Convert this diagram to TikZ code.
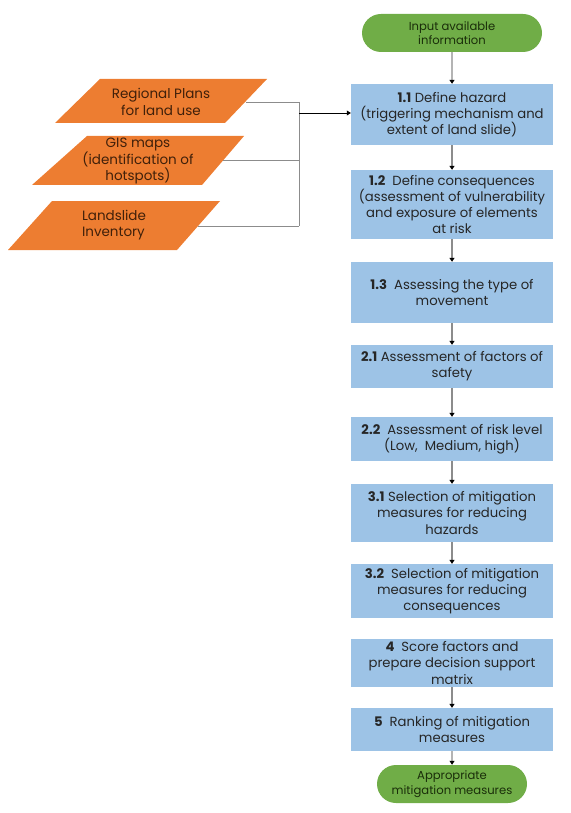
\documentclass[tikz,border=0pt]{standalone}
\usepackage{fontspec}
\setmainfont{Poppins}
\usetikzlibrary{arrows.meta,shapes.misc}
\definecolor{boxblue}{HTML}{9DC3E6}
\definecolor{ovgreen}{HTML}{70AD47}
\definecolor{porange}{HTML}{ED7D31}
\definecolor{ptext}{HTML}{40200A}
\definecolor{gtext}{HTML}{1A2E0A}
\definecolor{btext}{HTML}{262626}
\definecolor{lgray}{HTML}{8C8C8C}
\tikzset{
  stepbox/.style={fill=boxblue, draw=none, minimum width=202pt, align=center, text=btext,
    font=\fontsize{13.2}{16.2}\selectfont, inner sep=0pt},
  oval/.style={fill=ovgreen, draw=none, rounded rectangle, align=center, text=gtext,
    font=\fontsize{11.6}{14.5}\selectfont, inner sep=0pt},
  ptxt/.style={align=center, text=ptext, font=\fontsize{13.5}{16.2}\selectfont, inner sep=0pt},
  flow/.style={draw=lgray, line width=1.1pt, -{Triangle[length=4pt,width=5pt,fill=black,color=black]}},
  feed/.style={draw=lgray, line width=0.7pt},
}
\begin{document}
\begin{tikzpicture}[x=1pt,y=-1pt]
\useasboundingbox (0,0) rectangle (570,813);
% ovals
\node[oval, minimum width=180pt, minimum height=38pt] (start) at (452,33) {Input available\\information};
\node[oval, minimum width=150pt, minimum height=38pt] (end) at (452,784) {Appropriate\\mitigation measures};
% boxes
\node[stepbox, minimum height=61pt] (b11) at (452,114.5) {\textbf{1.1} Define hazard\\(triggering mechanism and\\extent of land slide)};
\node[stepbox, minimum height=69pt] (b12) at (452,204.5) {\textbf{1.2}\ \ Define consequences\\(assessment of vulnerability\\and exposure of elements\\at risk};
\node[stepbox, minimum height=61pt] (b13) at (452,292.5) {\textbf{1.3}\ \ Assessing the type of\\movement};
\node[stepbox, minimum height=43pt] (b21) at (452,366.5) {\textbf{2.1} Assessment of factors of\\safety};
\node[stepbox, minimum height=44pt] (b22) at (452,439) {\textbf{2.2}\ \ Assessment of risk level\\(Low,\ \ Medium, high)};
\node[stepbox, minimum height=58pt] (b31) at (452,513) {\textbf{3.1} Selection of mitigation\\measures for reducing\\hazards};
\node[stepbox, minimum height=54pt] (b32) at (452,591) {\textbf{3.2}\ \ Selection of mitigation\\measures for reducing\\consequences};
\node[stepbox, minimum height=48pt] (b4) at (452,663) {\textbf{4}\ \ Score factors and\\prepare decision support\\matrix};
\node[stepbox, minimum height=43pt] (b5) at (452,729.5) {\textbf{5}\ \ Ranking of mitigation\\measures};
% parallelograms
\fill[porange] (55,123) -- (225,123) -- (267,79) -- (100,79) -- cycle;
\fill[porange] (32,185) -- (202,185) -- (244,136) -- (87,136) -- cycle;
\fill[porange] (8,250) -- (177,250) -- (220,201) -- (52,201) -- cycle;
\node[ptxt] (p1) at (161,102) {Regional Plans\\for land use};
\node[ptxt] (p2) at (138,161) {GIS maps\\(identification of\\hotspots)};
\node[ptxt, align=left] (p3) at (114,225.5) {Landslide\\Inventory};
\coordinate (p1e) at (246,102);
\coordinate (p2e) at (223,160);
\coordinate (p3e) at (198,226);
\coordinate (j1) at (299,102);
\coordinate (j2) at (299,160);
\coordinate (j3) at (299,226);
\coordinate (jm) at (299,113);
% feeders
\draw[feed] (p1e) -- (j1);
\draw[feed] (p2e) -- (j2);
\draw[feed] (p3e) -- (j3);
\draw[feed] (j1) -- (j3);
\draw[line width=0.7pt, -{Triangle[length=4pt,width=5pt]}] (jm) -- (b11.west |- jm);
% main flow
\draw[flow] (start) -- (b11);
\draw[flow] (b11) -- (b12);
\draw[flow] (b12) -- (b13);
\draw[flow] (b13) -- (b21);
\draw[flow] (b21) -- (b22);
\draw[flow] (b22) -- (b31);
\draw[flow] (b31) -- (b32);
\draw[flow] (b4) -- (b5);
\draw[flow] (b5) -- (end);
\end{tikzpicture}
\end{document}
